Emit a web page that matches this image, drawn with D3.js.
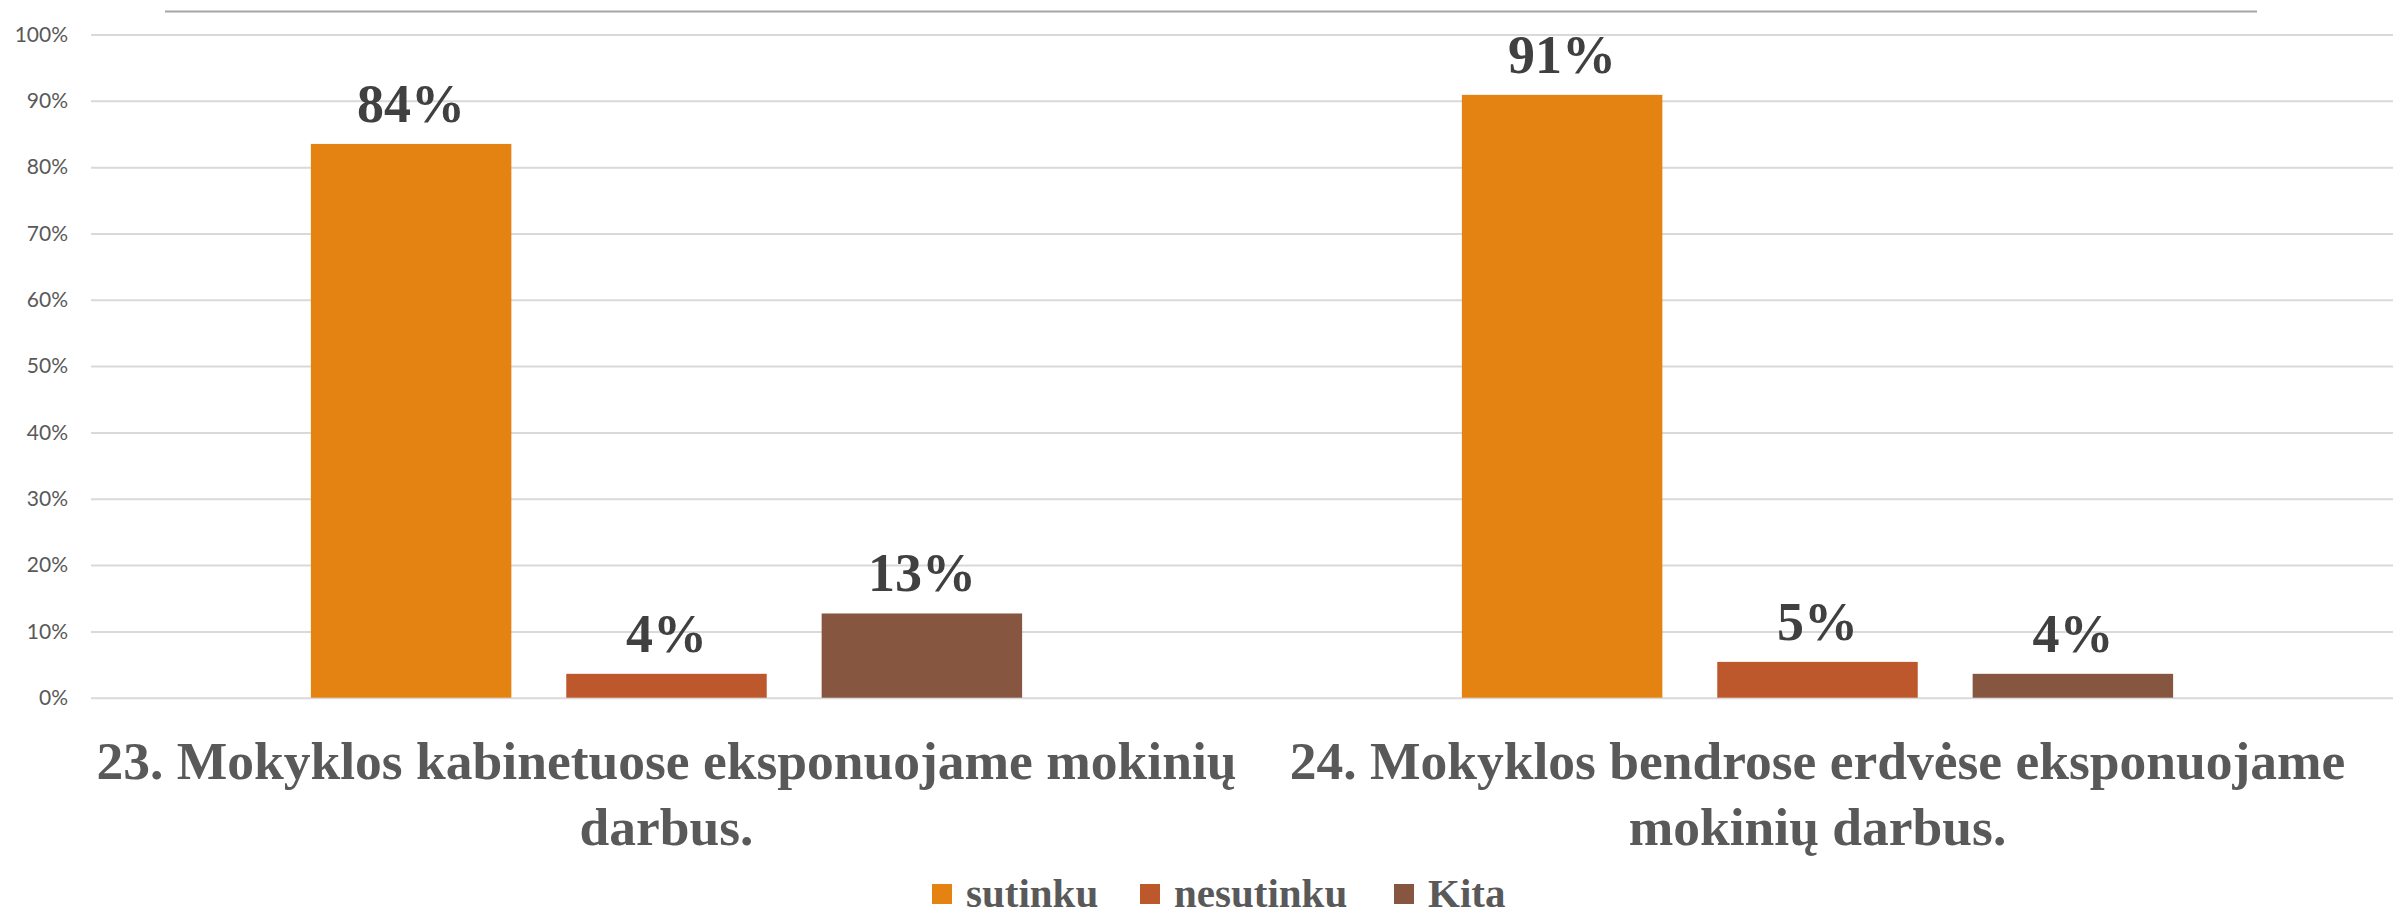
<!DOCTYPE html>
<html lang="lt">
<head>
	<meta charset="UTF-8">
	<title>Mokinių darbai</title>
	<script src="https://cdn.jsdelivr.net/npm/d3@7"></script>
	<style>
		html,body{
			margin:0;
			padding:0;
			background:#fff;
		}
		svg{
			display:block;
		}
		.tick text{
			font-family:Lato, "Open Sans", sans-serif;
			fill:#595959;
		}
	</style>
</head>
<body>
	<svg id="chart" width="2400" height="917"></svg>
	<script>
		// data
		var categories = ["q23", "q24"];
		var categoryLines = [
			["23. Mokyklos kabinetuose eksponuojame mokinių", "darbus."],
			["24. Mokyklos bendrose erdvėse eksponuojame", "mokinių darbus."]
		];
		var series = ["sutinku", "nesutinku", "Kita"];
		var sutinku = [0.835, 0.909];
		var nesutinku = [0.036, 0.054];
		var kita = [0.127, 0.036];
		var yTicks = [0, 0.1, 0.2, 0.3, 0.4, 0.5, 0.6, 0.7, 0.8, 0.9, 1];
		var colors = ["#e48312", "#bd582c", "#865640"];

		var seriesValues = [sutinku, nesutinku, kita];

		var svg = d3.select("#chart"),
			plotLeft = 91, plotRight = 2393,
			plotTop = 34.5, plotBottom = 697.7;

		var x0 = d3.scaleBand().domain(categories).range([plotLeft, plotRight]);
		var x1 = d3.scaleBand().domain(series).range([0, x0.bandwidth()])
			.paddingInner(0.215).paddingOuter(0.861);
		var y = d3.scaleLinear().domain([0, 1]).range([plotBottom, plotTop]);
		var color = d3.scaleOrdinal().domain(series).range(colors);

		// thin rule at the very top
		svg.append("line")
			.attr("x1", 165).attr("x2", 2257)
			.attr("y1", 11.5).attr("y2", 11.5)
			.attr("stroke", "#a6a6a6").attr("stroke-width", 2);

		// y axis + gridlines
		var yAxis = svg.append("g")
			.attr("transform", "translate(" + plotLeft + ",0)")
			.call(d3.axisLeft(y).tickValues(yTicks)
				.tickFormat(d3.format(".0%"))
				.tickSize(-(plotRight - plotLeft)).tickPadding(23));
		yAxis.select(".domain").remove();
		yAxis.selectAll(".tick line").attr("stroke", "#d9d9d9").attr("stroke-width", 2);
		yAxis.selectAll(".tick text").attr("font-size", 21);

		// bars
		var rows = [];
		categories.forEach((c, i)=>{
			series.forEach((s, j)=>{
				rows.push({cat: c, key: s, value: seriesValues[j][i]});
			});
		});

		svg.append("g").selectAll("rect")
			.data(rows)
			.enter().append("rect")
			.attr("x", (d)=>{return x0(d.cat) + x1(d.key);})
			.attr("y", (d)=>{return y(d.value);})
			.attr("width", x1.bandwidth())
			.attr("height", (d)=>{return y(0) - y(d.value);})
			.attr("fill", (d)=>{return color(d.key);});

		// data labels
		svg.append("g").selectAll("text")
			.data(rows)
			.enter().append("text")
			.attr("x", (d)=>{return x0(d.cat) + x1(d.key) + x1.bandwidth() / 2;})
			.attr("y", (d)=>{return y(d.value) - 22;})
			.attr("text-anchor", "middle")
			.attr("font-family", "'Liberation Serif', 'Times New Roman', serif")
			.attr("font-weight", "bold")
			.attr("font-size", 54)
			.attr("fill", "#404040")
			.text((d)=>{return d3.format(".0%")(d.value);});

		// category labels
		var catText = svg.append("g").selectAll("text")
			.data(categories)
			.enter().append("text")
			.attr("text-anchor", "middle")
			.attr("font-family", "'Liberation Serif', 'Times New Roman', serif")
			.attr("font-weight", "bold")
			.attr("font-size", 53.5)
			.attr("fill", "#595959");
		catText.selectAll("tspan")
			.data((d, i)=>{return categoryLines[i].map((t)=>{return {cat: d, t: t};});})
			.enter().append("tspan")
			.attr("x", (d)=>{return x0(d.cat) + x0.bandwidth() / 2;})
			.attr("y", (d, i)=>{return 779 + i * 66;})
			.text((d)=>{return d.t;});

		// legend
		var legendX = [932, 1140, 1394];
		var legend = svg.append("g").selectAll("g")
			.data(series)
			.enter().append("g")
			.attr("transform", (d, i)=>{return "translate(" + legendX[i] + ",884)";});
		legend.append("rect")
			.attr("width", 20).attr("height", 20)
			.attr("fill", (d)=>{return color(d);});
		legend.append("text")
			.attr("x", 34).attr("y", 23)
			.attr("font-family", "'Liberation Serif', 'Times New Roman', serif")
			.attr("font-weight", "bold")
			.attr("font-size", 41)
			.attr("fill", "#595959")
			.text((d)=>{return d;});
	</script>
</body>
</html>
